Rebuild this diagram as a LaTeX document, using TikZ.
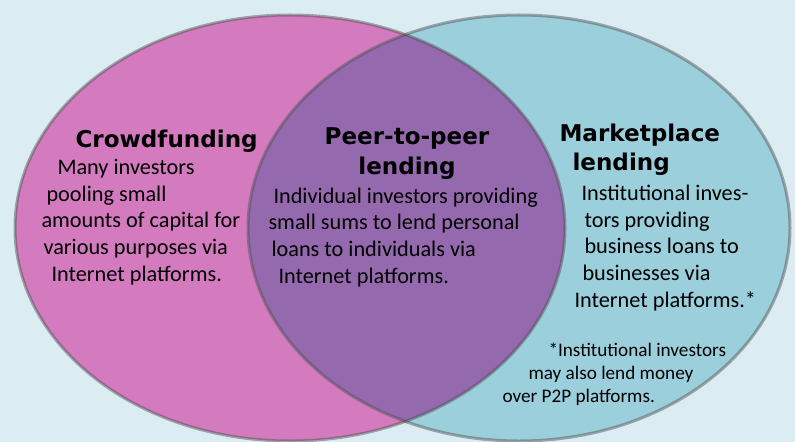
\documentclass[tikz,border=0pt]{standalone}
\usepackage{fontspec}
\setmainfont{Carlito}
\newfontfamily\headfont{DejaVu Sans}

\definecolor{bgcol}{RGB}{219,237,243}
\definecolor{pinkcol}{RGB}{211,123,190}
\definecolor{bluecol}{RGB}{156,207,220}
\definecolor{purplecol}{RGB}{149,105,174}

\tikzset{every picture/.style={line width=0.75pt}}
\tikzset{
  rim/.style={draw=black!70, draw opacity=0.45, line width=2.25pt},
  headtext/.style={font=\headfont\bfseries\fontsize{17.3}{21.75}\selectfont, inner sep=0pt},
  bodytext/.style={font=\fontsize{16.7}{20}\selectfont, inner sep=0pt, align=left},
  notetext/.style={font=\fontsize{14.4}{17.1}\selectfont, inner sep=0pt, align=left}
}

\begin{document}
\begin{tikzpicture}[x=0.75pt,y=0.75pt,yscale=-1,xscale=1]
\useasboundingbox (0,0) rectangle (795,442);

%Shape: Rectangle [id:back] 
\fill [bgcol] (0,0) rectangle (795,442) ;

%Shape: Ellipse [id:crowd] 
\fill [pinkcol] (290,228) ellipse [x radius=275, y radius=213] ;
%Shape: Ellipse [id:market] 
\fill [bluecol] (519,228) ellipse [x radius=271, y radius=213] ;
%Shape: Ellipse [id:overlap] 
\begin{scope}
\clip (290,228) ellipse [x radius=275, y radius=213] ;
\fill [purplecol] (519,228) ellipse [x radius=271, y radius=213] ;
\end{scope}
%Shape: Ellipse [id:crowdrim] 
\draw [rim] (290,228) ellipse [x radius=275, y radius=213] ;
%Shape: Ellipse [id:marketrim] 
\draw [rim] (519,228) ellipse [x radius=271, y radius=213] ;

% Text Node (base = last line)
\draw (75,147) node (crowdhead) [headtext, anchor=base west] {Crowdfunding};
% Text Node
\draw (41,281) node (crowdbody) [bodytext, anchor=base west] {\hspace*{12pt}Many investors\\ \hspace*{3.75pt}pooling small\\ amounts of capital for\\ \hspace*{1.5pt}various purposes via\\ \hspace*{7.5pt}Internet platforms.};
% Text Node
\draw (407,174) node (p2phead) [headtext, anchor=base, align=center] {Peer-to-peer\\ lending};
% Text Node
\draw (268,283) node (p2pbody) [bodytext, anchor=base west] {\hspace*{3.75pt}Individual investors providing\\ small sums to lend personal\\ \hspace*{2.25pt}loans to individuals via\\ \hspace*{7.5pt}Internet platforms.};
% Text Node
\draw (559,171) node (markethead) [headtext, anchor=base west, align=left] {Marketplace\\ \hspace*{9.75pt}lending};
% Text Node
\draw (574,307) node (marketbody) [bodytext, anchor=base west] {\hspace*{5.25pt}Institutional inves-\\ \hspace*{7.5pt}tors providing\\ \hspace*{7.5pt}business loans to\\ \hspace*{6pt}businesses via\\ Internet platforms.*};
% Text Node
\draw (502,402) node (marketnote) [notetext, anchor=base west] {\hspace*{34.5pt}*Institutional investors\\ \hspace*{19.5pt}may also lend money\\ over P2P platforms.};

\end{tikzpicture}
\end{document}
